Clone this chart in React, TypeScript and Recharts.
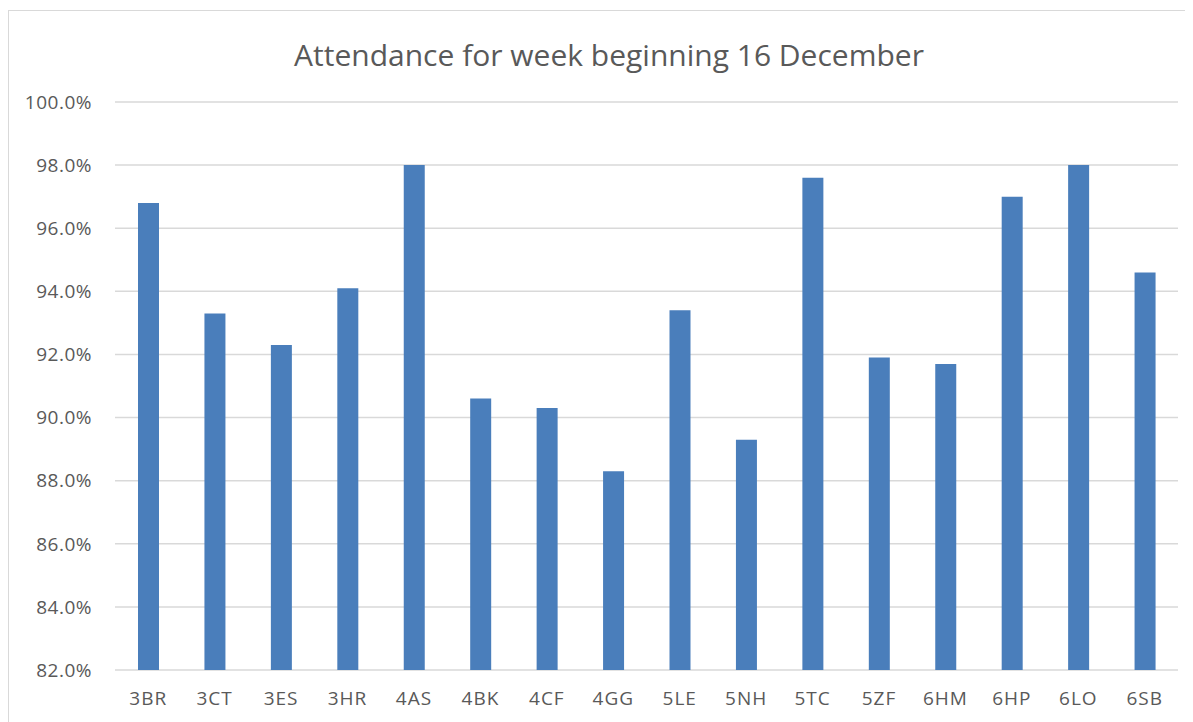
import { Bar, BarChart, CartesianGrid, XAxis, YAxis } from "recharts"

const classes = ["3BR", "3CT", "3ES", "3HR", "4AS", "4BK", "4CF", "4GG", "5LE", "5NH", "5TC", "5ZF", "6HM", "6HP", "6LO", "6SB"]
const attendance = [96.8, 93.3, 92.3, 94.1, 98.0, 90.6, 90.3, 88.3, 93.4, 89.3, 97.6, 91.9, 91.7, 97.0, 98.0, 94.6]
const yTicks = [82, 84, 86, 88, 90, 92, 94, 96, 98, 100]

const title = "Attendance for week beginning 16 December"
const font = "'Open Sans', sans-serif"
const textGray = "#595959"

export default function App() {
  const data = classes.map((name, i) => ({ name, value: attendance[i] }))

  return (
    <div
      style={{
        position: "relative",
        width: 1184,
        height: 712,
        marginTop: 2,
        borderLeft: "1px solid #d9d9d9",
        borderTop: "1px solid #d9d9d9",
        fontFamily: font,
      }}
    >
      <div
        style={{
          position: "absolute",
          left: 0,
          width: 1200,
          top: 23,
          textAlign: "center",
          fontSize: 30,
          color: textGray,
        }}
      >
        {title}
      </div>
      <BarChart
        width={1184}
        height={712}
        data={data}
        margin={{ top: 91, right: 15, bottom: 13, left: 16 }}
      >
        <CartesianGrid vertical={false} stroke="#d9d9d9" strokeWidth={1.5} />
        <XAxis
          dataKey="name"
          axisLine={false}
          tickLine={false}
          tickMargin={16}
          height={40}
          tick={{ fill: textGray, fontSize: 19, fontFamily: font, letterSpacing: 1 }}
        />
        <YAxis
          domain={[82, 100]}
          ticks={yTicks}
          axisLine={false}
          tickLine={false}
          tickMargin={17}
          width={90}
          tickFormatter={(v: number) => `${v.toFixed(1)}%`}
          tick={{ fill: textGray, fontSize: 19, fontFamily: font, letterSpacing: 0.5 }}
        />
        <Bar dataKey="value" fill="#4a7ebb" barSize={21} isAnimationActive={false} />
      </BarChart>
    </div>
  )
}
